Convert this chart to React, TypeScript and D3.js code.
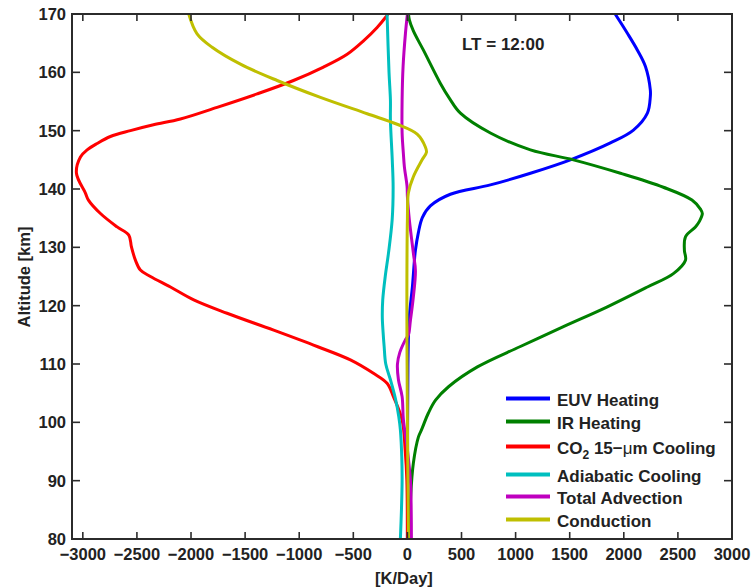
import React from "react";
import * as d3 from "d3";

// ---- data (altitude [km], heating rate [K/Day]) ----
const euvAlt = [170, 166.7, 163.8, 161, 157, 155.8, 153, 150.1, 147.9, 145, 142.7, 140.7, 139.1, 137.1, 135.1, 132.4, 129.5, 127.8, 123.2, 118.7, 115, 110, 100, 80];
const euvVal = [1920, 2033, 2126, 2200, 2245, 2245, 2218, 2089, 1876, 1506, 1137, 767, 397, 212, 138, 100, 74, 65, 46, 20, 10, 5, 2, 0];

const irAlt = [170, 169, 167.1, 163.8, 158.1, 155.5, 153, 149.6, 146.7, 145, 142.7, 140.3, 138.1, 136.5, 135.8, 134.5, 133.5, 131.8, 129.5, 127.8, 125.5, 123.2, 119.8, 116.4, 113, 109.5, 106.1, 103.8, 101.6, 98.7, 97.5, 93, 87.2, 80];
const irVal = [10, 18, 55, 148, 305, 390, 490, 767, 1137, 1534, 1969, 2366, 2630, 2710, 2726, 2700, 2662, 2570, 2560, 2570, 2458, 2218, 1848, 1442, 1044, 647, 380, 260, 194, 130, 102, 55, 30, 20];

const co2Alt = [170, 169.4, 167.7, 165.4, 163.1, 160.9, 158.6, 156.3, 154, 152, 151, 150, 149, 147.8, 146.7, 145.5, 142.7, 139.3, 138.1, 135.8, 133.5, 132.1, 130.1, 127.8, 126.1, 125, 123.2, 121, 118.7, 115.8, 113, 110.7, 108.4, 106.7, 104.4, 100.4, 95, 90, 80];
const co2Val = [-180, -203, -280, -406, -557, -776, -1053, -1389, -1759, -2098, -2347, -2560, -2745, -2868, -2960, -3022, -3059, -2976, -2948, -2837, -2683, -2575, -2551, -2514, -2468, -2375, -2190, -1975, -1667, -1236, -834, -527, -314, -188, -129, -49, -20, -5, 0];

const adiAlt = [170, 160, 155.3, 151.8, 145, 140.4, 134.7, 129, 125, 121, 118, 115.5, 113, 110, 107.3, 104, 101, 98.7, 94, 90, 85, 80];
const adiVal = [-188, -170, -157, -157, -140, -132, -141, -175, -205, -228, -232, -225, -215, -200, -157, -110, -80, -65, -52, -49, -55, -65];

const advAlt = [170, 166.7, 161, 155.3, 149.6, 146, 143.8, 140.4, 138.7, 134.7, 129, 126, 121.5, 117.5, 115, 114.1, 112, 110, 107.3, 104.4, 100.4, 95.8, 90, 85, 80];
const advVal = [0, -18, -40, -49, -49, -37, -28, -3, 0, 18, 55, 74, 55, 28, 9, -20, -70, -92, -83, -49, -37, -3, 28, 35, 37];

const condAlt = [170, 166.6, 164.3, 161.4, 158.6, 155.7, 152.9, 151.1, 149.4, 147.2, 146.3, 145, 142.1, 139.3, 135, 120, 110, 100, 90, 80];
const condVal = [-2021, -1944, -1805, -1543, -1204, -804, -372, -95, 90, 166, 176, 136, 55, 9, 0, -5, -3, 0, 5, 10];

const seriesNames = ["EUV Heating", "IR Heating", "CO2 15-μm Cooling", "Adiabatic Cooling", "Total Advection", "Conduction"];
const seriesColors = ["#0000ff", "#008000", "#ff0000", "#00bfbf", "#bf00bf", "#bfbf00"];
const seriesAlts = [euvAlt, irAlt, co2Alt, adiAlt, advAlt, condAlt];
const seriesVals = [euvVal, irVal, co2Val, adiVal, advVal, condVal];

const xTicks = [-3000, -2500, -2000, -1500, -1000, -500, 0, 500, 1000, 1500, 2000, 2500, 3000];
const yTicks = [80, 90, 100, 110, 120, 130, 140, 150, 160, 170];

const W = 753, H = 588;
const L = 72, R = 732, T = 14, B = 539;

export default function App() {
  const x = d3.scaleLinear().domain([-3100, 3000]).range([L, R]);
  const y = d3.scaleLinear().domain([80, 170]).range([B, T]);
  const line = d3
    .line<[number, number]>()
    .x((d) => x(d[1]))
    .y((d) => y(d[0]))
    .curve(d3.curveCatmullRom.alpha(0.5));

  const font = "'Liberation Sans', Arial, sans-serif";
  const axisColor = "#2b2b2b";
  const fs = 16.5;
  const lfs = 17;
  const legendY = [398.5, 421.5, 446.5, 474.5, 496.5, 519.5];

  return (
    <svg
      width={W}
      height={H}
      style={{ position: "absolute", left: 0, top: 0, background: "#fff" }}
      fontFamily={font}
    >
      <defs>
        <clipPath id="plotclip">
          <rect x={L} y={T} width={R - L} height={B - T} />
        </clipPath>
      </defs>
      <rect x={0} y={0} width={W} height={H} fill="#fff" />

      {/* curves */}
      <g clipPath="url(#plotclip)">
        {seriesNames.map((n, i) => {
          const pts: [number, number][] = seriesAlts[i].map((a, k) => [a, seriesVals[i][k]]);
          return (
            <path key={n} d={line(pts) || ""} fill="none" stroke={seriesColors[i]} strokeWidth={3} strokeLinejoin="round" />
          );
        })}
      </g>

      {/* box */}
      <rect x={L} y={T} width={R - L} height={B - T} fill="none" stroke={axisColor} strokeWidth={2} />

      {/* x ticks */}
      {xTicks.map((t) => (
        <g key={"x" + t}>
          <line x1={x(t)} x2={x(t)} y1={B} y2={B - 7} stroke={axisColor} strokeWidth={1.6} />
          <line x1={x(t)} x2={x(t)} y1={T} y2={T + 7} stroke={axisColor} strokeWidth={1.6} />
          <text x={x(t)} y={560} textAnchor="middle" fontSize={fs} fontWeight="bold" fill="#222">
            {t < 0 ? "\u2212" + Math.abs(t) : String(t)}
          </text>
        </g>
      ))}

      {/* y ticks */}
      {yTicks.map((t) => (
        <g key={"y" + t}>
          <line x1={L} x2={L + 8} y1={y(t)} y2={y(t)} stroke={axisColor} strokeWidth={1.6} />
          <line x1={R} x2={R - 8} y1={y(t)} y2={y(t)} stroke={axisColor} strokeWidth={1.6} />
          <text x={66} y={y(t) + 6} textAnchor="end" fontSize={fs} fontWeight="bold" fill="#222">
            {t}
          </text>
        </g>
      ))}

      {/* axis labels */}
      <text x={404} y={584} textAnchor="middle" fontSize={fs} fontWeight="bold" fill="#222">
        [K/Day]
      </text>
      <text
        transform={`translate(30,${277}) rotate(-90)`}
        textAnchor="middle"
        fontSize={fs}
        fontWeight="bold"
        fill="#222"
      >
        Altitude [km]
      </text>

      {/* annotation */}
      <text x={462} y={50} fontSize={lfs} fontWeight="bold" fill="#222">
        LT = 12:00
      </text>

      {/* legend */}
      {seriesNames.map((n, i) => (
        <g key={"lg" + n}>
          <line x1={506} x2={550} y1={legendY[i]} y2={legendY[i]} stroke={seriesColors[i]} strokeWidth={4} />
          <text x={557} y={legendY[i] + 7} fontSize={lfs} fontWeight="bold" fill="#222">
            {i === 2 ? (
              <>
                CO
                <tspan dy={5} fontSize={12}>2</tspan>
                <tspan dy={-5}> 15</tspan>
                <tspan>{"\u2212"}</tspan>
                <tspan fontWeight="normal">μ</tspan>
                <tspan>m Cooling</tspan>
              </>
            ) : (
              n
            )}
          </text>
        </g>
      ))}
    </svg>
  );
}
